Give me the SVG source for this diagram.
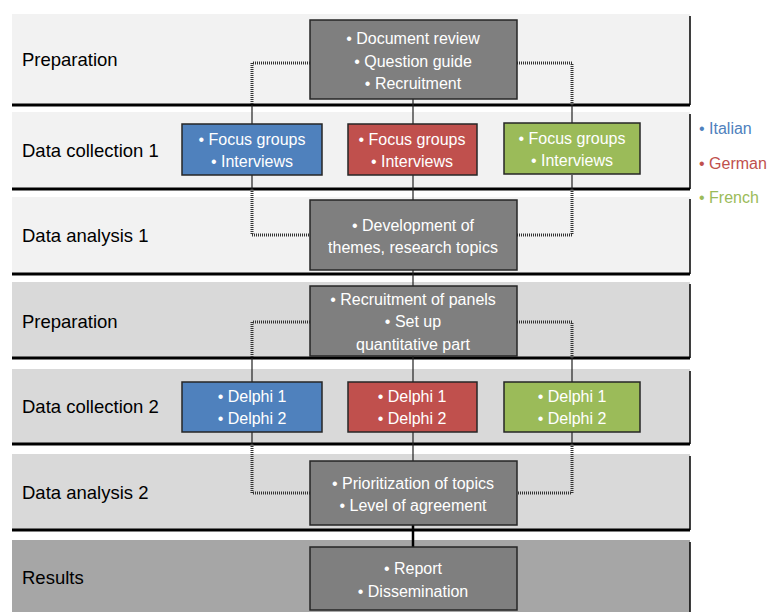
<svg xmlns="http://www.w3.org/2000/svg" width="768" height="612" viewBox="0 0 768 612">
<style>
.band1{fill:#f2f2f2}
.band2{fill:#d9d9d9}
.band3{fill:#a6a6a6}
.edge{stroke:#000;stroke-width:1.5;fill:none}
.bottom{stroke:#000;stroke-width:3;fill:none}
.lbl{font-family:"Liberation Sans",Arial,sans-serif;font-size:18.5px;fill:#000}
.box{stroke:#262626;stroke-width:1.5}
.gray{fill:#7f7f7f}
.blue{fill:#4f81bd}
.red{fill:#c0504d}
.green{fill:#9bbb59}
.t{font-family:"Liberation Sans",Arial,sans-serif;font-size:16px;fill:#fff;text-anchor:middle}
.leg{font-family:"Liberation Sans",Arial,sans-serif;font-size:16px}
.dot{stroke:#333;stroke-width:3;stroke-dasharray:1 1;fill:none}
.sol{stroke:#222;stroke-width:1.2;fill:none}
.thick{stroke:#000;stroke-width:2.5;fill:none}
</style>

<g id="bands">
  <rect class="band1" x="12" y="14" width="678" height="91"/>
  <rect class="band1" x="12" y="112" width="678" height="77"/>
  <rect class="band1" x="12" y="197" width="678" height="77"/>
  <rect class="band2" x="12" y="282" width="678" height="76"/>
  <rect class="band2" x="12" y="369" width="678" height="75"/>
  <rect class="band2" x="12" y="454" width="678" height="76"/>
  <rect class="band3" x="12" y="540" width="678" height="72"/>
  <path class="edge" d="M690 16V105M690 114V189M690 199V274M690 284V358M690 371V444M690 456V530M690 542V612"/>
  <path class="bottom" d="M12 105H690M12 189H690M12 274H690M12 358H690M12 444H690M12 530H690"/>
  <text class="lbl" x="22" y="66">Preparation</text>
  <text class="lbl" x="22" y="157">Data collection 1</text>
  <text class="lbl" x="22" y="242">Data analysis 1</text>
  <text class="lbl" x="22" y="328">Preparation</text>
  <text class="lbl" x="22" y="413">Data collection 2</text>
  <text class="lbl" x="22" y="499">Data analysis 2</text>
  <text class="lbl" x="22" y="584">Results</text>
</g>

<g id="connectors">
  <path class="dot" d="M310 63H252V105M517 63H572V105"/>
  <path class="sol" d="M252 105V124M572 105V124M413 99V124"/>
  <path class="sol" d="M252 175V189M572 175V189M413 175V200"/>
  <path class="dot" d="M252 189V235H310M572 189V235H517"/>
  <path class="sol" d="M413 270V286"/>
  <path class="dot" d="M310 322H252V358M517 322H572V358"/>
  <path class="sol" d="M252 358V382M572 358V382M413 356V382"/>
  <path class="sol" d="M252 432V444M572 432V444M413 432V461"/>
  <path class="dot" d="M252 444V493H310M572 444V493H517"/>
  <path class="thick" d="M413 525V547"/>
</g>

<g id="prep1">
  <rect class="box gray" x="310" y="20" width="207" height="79"/>
  <text class="t" x="413" y="44">• Document review</text>
  <text class="t" x="413" y="67">• Question guide</text>
  <text class="t" x="413" y="89">• Recruitment</text>
</g>

<g id="dc1-italian">
  <rect class="box blue" x="182" y="124" width="140" height="51"/>
  <text class="t" x="252" y="145">• Focus groups</text>
  <text class="t" x="252" y="167">• Interviews</text>
</g>
<g id="dc1-german">
  <rect class="box red" x="348" y="124" width="129" height="51"/>
  <text class="t" x="412" y="145">• Focus groups</text>
  <text class="t" x="412" y="167">• Interviews</text>
</g>
<g id="dc1-french">
  <rect class="box green" x="504" y="123" width="136" height="51"/>
  <text class="t" x="572" y="144">• Focus groups</text>
  <text class="t" x="572" y="166">• Interviews</text>
</g>

<g id="da1">
  <rect class="box gray" x="310" y="200" width="207" height="70"/>
  <text class="t" x="413" y="231">• Development of</text>
  <text class="t" x="413" y="253">themes, research topics</text>
</g>

<g id="prep2">
  <rect class="box gray" x="310" y="286" width="207" height="70"/>
  <text class="t" x="413" y="305">• Recruitment of panels</text>
  <text class="t" x="413" y="327">• Set up</text>
  <text class="t" x="413" y="350">quantitative part</text>
</g>

<g id="dc2-italian">
  <rect class="box blue" x="182" y="382" width="140" height="50"/>
  <text class="t" x="252" y="402">• Delphi 1</text>
  <text class="t" x="252" y="424">• Delphi 2</text>
</g>
<g id="dc2-german">
  <rect class="box red" x="348" y="382" width="129" height="50"/>
  <text class="t" x="412" y="402">• Delphi 1</text>
  <text class="t" x="412" y="424">• Delphi 2</text>
</g>
<g id="dc2-french">
  <rect class="box green" x="504" y="382" width="136" height="50"/>
  <text class="t" x="572" y="402">• Delphi 1</text>
  <text class="t" x="572" y="424">• Delphi 2</text>
</g>

<g id="da2">
  <rect class="box gray" x="310" y="461" width="207" height="64"/>
  <text class="t" x="413" y="489">• Prioritization of topics</text>
  <text class="t" x="413" y="511">• Level of agreement</text>
</g>

<g id="results">
  <rect class="box gray" x="310" y="547" width="207" height="63"/>
  <text class="t" x="413" y="574">• Report</text>
  <text class="t" x="413" y="597">• Dissemination</text>
</g>

<g id="legend">
  <text class="leg" x="699" y="134" fill="#4f81bd">• Italian</text>
  <text class="leg" x="699" y="169" fill="#c0504d">• German</text>
  <text class="leg" x="699" y="203" fill="#9bbb59">• French</text>
</g>
</svg>
